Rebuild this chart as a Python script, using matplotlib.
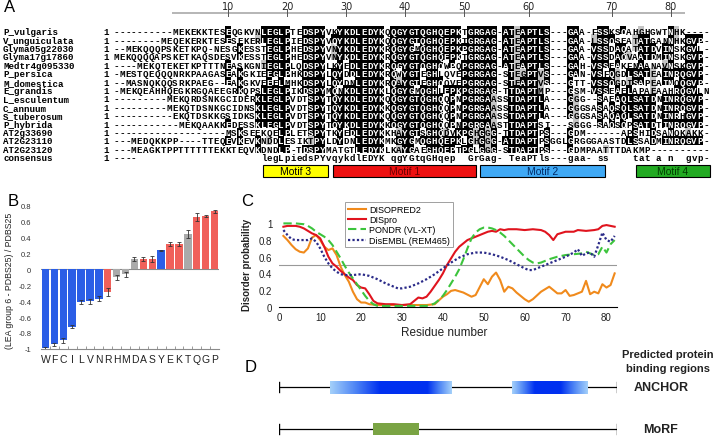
import numpy as np
import matplotlib.pyplot as plt
from matplotlib.colors import ListedColormap, LinearSegmentedColormap
from matplotlib.patches import Rectangle

W, H = 713, 439

# ---------------- panel A: alignment ----------------
names = ['P_vulgaris', 'V_unguiculata', 'Glyma05g22030', 'Glyma17g17860',
         'Medtr4g095330', 'P_persica', 'M_domestica', 'E_grandis',
         'L_esculentum', 'C_annuum', 'S_tuberosum', 'P_hybrida',
         'AT2g33690', 'AT2G23110', 'AT2G23120']
seqs = [
    '----------MEKEKKTESEQGKVN' 'LEGLPTEDSPYVKYKDLEDYKQQGYGT' 'QGHQEPKTGRGAG-ATEAPTLS' '---GAA-FSSKSQAHGHGWTNHK----',
    '--------MEQEKERKTESESEKER' 'LEGLPIEDSPYVQYKDLEDYKQQGYGT' 'QGHQEPKTGRGAG-ATEAPTLS' '---GAA-LSSQSEATATGANNHKGVP-',
    '--MEKQQQPSKETKPQ-NESGKESS' 'TEGLPHEDSPYVNYKDLEDYKRQGYGM' 'QGHQEPKPGRGAG-ATEAPTLS' '---GAA-VSSDAQATATDVINSKGVL-',
    'MEKQQQQAPSKETKAQSDESVKESS' 'TEGLPHEDSPYVNYKDLEDYKRQGYGT' 'QGHQEPKTGRGAG-ATEAPTLS' '---GAA-VSSDAQVAATDMINSKGVP-',
    '----MEKQTEKETKPTTTNEASKGN' 'IEGLPLQDSPYLKYEDLEDYKRQGYGT' 'QGHQWPQPGRGAG-ATEAPTLS' '---GAH-VSSEAKFNAANAVNSKGVP-',
    '-MESTQEQQQNRKPAAGASEAKGKI' 'EEGLPHKDSPYLQYDDLEDYKRQWYGT' 'EGHLQVEPGRGAG-STEGPTVS' '---GAN-VSFQGDLSATEAINRQGVP-',
    '--MASNQKQQSRKPAEG--EAKGKV' 'EEELMHKDSPYLQYDNLEDYKRQAYGT' 'EGHQQVEPGRGAG-STEAPTVS' '---GTT-VSSQGDISAPEAINQQGVP-',
    '-MEKQEAHHQEGKRGQAEEGRKQPS' 'LEGLPIKDSPYMQNKDLEDYKLQGYGM' 'QGHLEPKPGRGAG-TTDAPTMP' '---GSM-VSSEAELAPAEAAHRQGVLN',
    '---------MEKQRDSNKGCIDERK' 'LEGLPVDTSPYTQYKDLEDYKQQGYGT' 'QGHQQPNPGRGAASSTDAPTLA' '---GGG--SAEAQLSATDNINRQGVP-',
    '---------MEKQTDSNKGCIDNSK' 'LEGLPVDTSPYTQYKDLEDYKKQGYGT' 'QGHQQPNPGRGAASSTDAPTLA' '---GGGSASAQSQLSATDNINRQGVP-',
    '----------EKQTDSKKGSIDKSK' 'LEGLPVDTSPYTQYKDLEDYKQQGYGT' 'QGHQQPNPGRGAASSTDAPTLA' '---GGGSASAQAQLSATDNINRHGVP-',
    '-----------MEKQAAKKEDESSK' 'LEGLPVDTSPYTQYKDLEDYKKQGYGT' 'QGHQQPNPGRGAASTTDAPTSI' '---SGGG-SAQSQPSATDTINRQGVP-',
    '-------------------MSKSEE' 'KQELPLETSPYTKYEDLEDYKKHAYGT' 'SGHQDVKPGHGGG-TTDAPTPS' '---GDM------APSHIDSANQKAKK-',
    '---MEDQKKPP----TTEQEVKEVK' 'NDDLESIKTPYLDYDNLEDYKMKGYGM' 'QGHQEPKLGHGGG-ATDAPTPS' 'GGLGRGGGAASTDLSSADMINRQGVP-',
    '---MEAGKTPPTTTTTTEKKTEQVK' 'DNDLP-TDSPYMATGTLEDYKLKAYGA' 'EGHQEPTPGLGGG-STDAPTPS' '---GDMPAATTTDAKMP----------',
]
consensus = ('----                     ' 'legLpiedsPYvqykdlEDYK qgYGt'
             'qGHqep  GrGag- TeaPTls' '---gaa- ss    tat a n  gvp-')
ruler_ticks = [10, 20, 30, 40, 50, 60, 70, 80]
motif_names = ['Motif 3', 'Motif 1', 'Motif 2', 'Motif 4']
motif_start = [25.4, 37.3, 62.2, 88.6]
motif_end = [36.4, 61.5, 83.4, 101.2]
motif_fill = ['#ffff00', '#ee1111', '#3fa9f5', '#22aa22']
motif_text = ['black', '#6a0000', '#002a66', '#003d00']

# ---------------- panel B ----------------
aa = list('WFCILVNRHMDASYEKTQGP')
b_vals = [-0.99, -0.94, -0.89, -0.72, -0.41, -0.40, -0.37, -0.28, -0.10, -0.06,
          0.13, 0.13, 0.13, 0.24, 0.32, 0.32, 0.44, 0.66, 0.67, 0.73]
b_err = [0.02, 0.02, 0.03, 0.02, 0.02, 0.03, 0.03, 0.05, 0.03, 0.03,
         0.03, 0.02, 0.04, 0.01, 0.03, 0.03, 0.05, 0.05, 0.01, 0.02]
b_group = ['b', 'b', 'b', 'b', 'b', 'b', 'b', 'r', 'g', 'g',
           'g', 'r', 'r', 'b', 'r', 'r', 'g', 'r', 'r', 'r']
b_colors = {'b': '#2b5ee6', 'r': '#f0605a', 'g': '#aaaaaa'}

# ---------------- panel C ----------------
diso_x = [1, 2, 3, 4, 5, 6, 7, 8, 9, 10, 11, 12, 13, 14, 15, 16, 17, 18, 19, 20, 21, 22, 24, 28, 32, 36, 38, 40,
          41, 42, 43, 45, 47, 48, 50, 51, 52, 53, 54, 55, 56, 57, 58, 60, 61, 62, 64, 65, 66, 67, 68, 69, 70,
          71, 72, 73, 74, 75, 76, 77, 78, 79, 80, 81, 82]
diso_y = [0.85, 0.80, 0.74, 0.69, 0.66, 0.65, 0.70, 0.83, 0.86, 0.80, 0.72, 0.68, 0.70, 0.62, 0.48, 0.38, 0.30,
          0.18, 0.09, 0.05, 0.05, 0.03, 0.02, 0.02, 0.02, 0.02, 0.03, 0.12, 0.15, 0.19, 0.20, 0.17, 0.12, 0.14,
          0.33, 0.27, 0.36, 0.41, 0.32, 0.18, 0.24, 0.22, 0.17, 0.09, 0.06, 0.09, 0.18, 0.21, 0.24, 0.20, 0.16,
          0.16, 0.20, 0.13, 0.14, 0.16, 0.18, 0.31, 0.15, 0.18, 0.16, 0.27, 0.23, 0.26, 0.40]
dispro_x = [1, 2, 4, 5, 6, 7, 8, 9, 10, 11, 12, 13, 14, 15, 16, 17, 18, 19, 20, 21, 22, 23, 24, 26, 28, 30, 32,
            33, 34, 35, 36, 37, 38, 39, 40, 41, 42, 43, 44, 45, 46, 47, 48, 49, 50, 51, 52, 53, 54, 55, 56, 58,
            60, 62, 64, 65, 66, 67, 68, 70, 72, 73, 75, 77, 78, 79, 80, 81, 82]
dispro_y = [0.96, 0.97, 0.97, 0.96, 0.94, 0.91, 0.88, 0.86, 0.82, 0.72, 0.60, 0.52, 0.48, 0.43, 0.39, 0.35,
            0.32, 0.26, 0.23, 0.22, 0.15, 0.07, 0.04, 0.03, 0.03, 0.02, 0.03, 0.07, 0.11, 0.10, 0.12, 0.18,
            0.25, 0.32, 0.40, 0.50, 0.58, 0.66, 0.72, 0.76, 0.80, 0.82, 0.84, 0.86, 0.88, 0.90, 0.91, 0.90,
            0.93, 0.92, 0.93, 0.93, 0.92, 0.93, 0.92, 0.90, 0.86, 0.80, 0.87, 0.90, 0.90, 0.92, 0.91, 0.92,
            0.93, 0.97, 0.98, 0.97, 0.96]
pondr_x = [1, 4, 6, 7, 8, 9, 10, 11, 12, 13, 14, 15, 16, 17, 18, 19, 20, 21, 22, 23, 24, 30, 36, 37, 38, 39, 40,
           41, 42, 43, 44, 45, 46, 47, 48, 49, 50, 51, 52, 53, 54, 55, 56, 57, 58, 59, 60, 61, 62, 63, 64, 65,
           66, 68, 70, 72, 74, 75, 76, 77, 78, 79, 80, 81, 82]
pondr_y = [1.0, 1.0, 0.99, 0.97, 0.94, 0.90, 0.87, 0.84, 0.80, 0.74, 0.66, 0.58, 0.49, 0.41, 0.34, 0.27, 0.20,
           0.13, 0.07, 0.03, 0.01, 0.01, 0.01, 0.02, 0.04, 0.08, 0.13, 0.20, 0.28, 0.36, 0.45, 0.57, 0.70,
           0.82, 0.89, 0.93, 0.95, 0.95, 0.94, 0.92, 0.89, 0.85, 0.80, 0.75, 0.70, 0.65, 0.60, 0.56, 0.53,
           0.52, 0.53, 0.55, 0.57, 0.60, 0.62, 0.63, 0.64, 0.66, 0.64, 0.62, 0.63, 0.72, 0.65, 0.75, 0.80]
embl_x = [1, 2, 3, 4, 5, 6, 7, 8, 9, 10, 11, 12, 13, 14, 15, 16, 18, 20, 22, 24, 26, 28, 29, 30, 32, 34, 36, 38,
          40, 42, 44, 46, 48, 50, 52, 54, 56, 58, 60, 61, 62, 64, 66, 68, 70, 72, 73, 74, 75, 76, 77, 78, 79,
          80, 81, 82]
embl_y = [0.92, 0.86, 0.81, 0.80, 0.80, 0.80, 0.80, 0.82, 0.78, 0.70, 0.60, 0.52, 0.46, 0.42, 0.39, 0.38, 0.38,
          0.39, 0.37, 0.33, 0.28, 0.24, 0.22, 0.22, 0.24, 0.28, 0.33, 0.39, 0.46, 0.53, 0.59, 0.63, 0.65,
          0.65, 0.63, 0.60, 0.56, 0.51, 0.46, 0.44, 0.44, 0.48, 0.52, 0.56, 0.60, 0.65, 0.69, 0.61, 0.64,
          0.65, 0.60, 0.74, 0.89, 0.80, 0.78, 0.85]

# ---------------- panel D ----------------
seq_len = 82.5
anchor_regions = [(12.4, 42.0), (56.8, 75.2)]
anchor_ramp = [(0.41, 0.20), (0.30, 0.36)]
morf_regions = [(22.8, 34.2)]


def rect(x0, y0, x1, y1):
    return [x0 / W, 1 - y1 / H, (x1 - x0) / W, (y1 - y0) / H]


def ftext(x, y, s, **kw):
    fig.text(x / W, 1 - y / H, s, **kw)


plt.rcParams['font.family'] = ['Liberation Sans', 'DejaVu Sans']
fig = plt.figure(figsize=(W / 100, H / 100), dpi=100)

# ---- A ----
ncol = len(seqs[0])
for s in seqs:
    assert len(s) == ncol, s
assert len(consensus) == ncol

groups = ['ILMV', 'FWY', 'KRH', 'DE', 'ST', 'NQ', 'AG']


def grp(a):
    for g in groups:
        if a in g:
            return g
    return a


nseq = len(seqs)
shade = np.zeros((nseq, ncol))
for c in range(ncol):
    col = [s[c] for s in seqs]
    res = [a for a in col if a != '-']
    if not res:
        continue
    vals, counts = np.unique(res, return_counts=True)
    top = vals[counts.argmax()]
    if counts.max() / nseq < 0.4:
        continue
    for r, a in enumerate(col):
        if a == top:
            shade[r, c] = 2
        elif a != '-' and grp(a) == grp(top):
            shade[r, c] = 1

axA = fig.add_axes(rect(0, 0, W, 182))
axA.imshow(shade, cmap=ListedColormap(['white', '#c4c4c4', 'black']), vmin=0, vmax=2,
           extent=(0, ncol, nseq - 0.5, -0.5), aspect='auto', interpolation='nearest')
axA.set_xlim(-113 / 5.9, 600 / 5.9)
axA.set_ylim(17.89, -3.774)
axA.axis('off')

mono = dict(family='Liberation Mono', weight='bold', fontsize=6.6)
rows = seqs + [consensus]
row_names = names + ['consensus']
for r, s in enumerate(rows):
    axA.text(-18.64, r, row_names[r], ha='left', va='center_baseline', **mono)
    axA.text(-1.2, r, '1', ha='center', va='center_baseline', **mono)
    for c, ch in enumerate(s):
        if ch == ' ':
            continue
        white = r < nseq and shade[r, c] == 2
        axA.text(c + 0.5, r, ch, ha='center', va='center_baseline',
                 color='white' if white else 'black', **mono)

pv = seqs[0]
res_cols = [i for i, a in enumerate(pv) if a != '-']
axA.plot([res_cols[0], res_cols[-1] + 1], [-2.07, -2.07], color='#b0b0b0', lw=1.3,
         solid_capstyle='butt')
for t in ruler_ticks:
    xc = res_cols[t - 1] + 0.5
    axA.plot([xc, xc], [-2.6, -1.75], color='#555555', lw=0.7)
    axA.text(xc, -2.95, str(t), ha='center', va='center', fontsize=7,
             family='Liberation Sans Narrow', color='#222222')

for name, s0, s1, fc, tc in zip(motif_names, motif_start, motif_end, motif_fill, motif_text):
    axA.add_patch(Rectangle((s0, 15.99), s1 - s0, 1.43, facecolor=fc, edgecolor='black', lw=0.8,
                            clip_on=False))
    axA.text((s0 + s1) / 2, 16.72, name, ha='center', va='center', fontsize=7.5, color=tc)

# ---- B ----
axB = fig.add_axes(rect(41, 206.8, 219, 349.9))
xb = np.arange(len(aa))
axB.bar(xb, b_vals, width=0.84, color=[b_colors[g] for g in b_group], yerr=b_err,
        error_kw=dict(ecolor='#333333', elinewidth=0.6, capsize=1.3, capthick=0.6))
axB.axhline(0, color='#8a8a8a', lw=0.8, zorder=0)
axB.set_xlim(-0.5, len(aa) - 0.5)
axB.set_ylim(-1, 0.8)
for sp in ['top', 'right', 'left']:
    axB.spines[sp].set_visible(False)
axB.spines['bottom'].set_color('#8a8a8a')
axB.spines['bottom'].set_linewidth(0.8)
axB.set_xticks(xb)
axB.set_xticklabels(aa, fontsize=7.5, color='#222222')
axB.set_xticks(xb[:-1] + 0.5, minor=True)
axB.tick_params(axis='x', which='major', length=0, pad=4)
axB.tick_params(axis='x', which='minor', length=2.5, direction='in', color='#8a8a8a')
yt = [-1, -0.8, -0.6, -0.4, -0.2, 0, 0.2, 0.4, 0.6, 0.8]
axB.set_yticks(yt)
axB.set_yticklabels(['%g' % v for v in yt], fontsize=5.5, color='#333333')
axB.tick_params(axis='y', length=0, pad=7)
ftext(10, 281, '(LEA group 6 - PDBS25) / PDBS25', rotation=90, ha='center', va='center',
      fontsize=6.3, color='#222222')

# ---- C ----
axC = fig.add_axes(rect(279.3, 224.4, 616.7, 307.7))
axC.axhline(0.5, color='#999999', lw=0.8, zorder=0)
axC.plot(diso_x, diso_y, color='#f08a1c', lw=1.5, label='DISOPRED2', clip_on=False)
axC.plot(dispro_x, dispro_y, color='#e0141e', lw=1.5, label='DISpro', clip_on=False)
axC.plot(pondr_x, pondr_y, color='#3cc43c', lw=1.5, ls=(0, (4, 2)), label='PONDR (VL-XT)',
         clip_on=False)
axC.plot(embl_x, embl_y, color='#2a2a88', lw=1.6, ls=(0, (1, 1)), label='DisEMBL (REM465)',
         clip_on=False)
axC.set_xlim(0, seq_len)
axC.set_ylim(0, 1)
for sp in ['top', 'right', 'left']:
    axC.spines[sp].set_visible(False)
axC.spines['bottom'].set_linewidth(0.8)
axC.set_xticks(range(0, 81, 10))
axC.set_yticks([0, 0.2, 0.4, 0.6, 0.8, 1])
axC.set_yticklabels(['0', '0.2', '0.4', '0.6', '0.8', '1'])
axC.tick_params(length=0, labelsize=7, colors='#222222')
axC.tick_params(axis='x', pad=4)
axC.tick_params(axis='y', pad=5)
leg = axC.legend(loc='upper left', bbox_to_anchor=(345 / W, 1 - 203 / H), bbox_transform=fig.transFigure,
                 borderaxespad=0, fontsize=6.5, frameon=True, fancybox=False, edgecolor='#888888',
                 handlelength=2.0, handletextpad=0.4, labelspacing=0.15, borderpad=0.3)
leg.get_frame().set_linewidth(0.7)
ftext(444, 333, 'Residue number', ha='center', va='center', fontsize=8.5, color='#222222')
ftext(247, 265, 'Disorder probability', rotation=90, ha='center', va='center', fontsize=7,
      weight='bold', color='#222222')

# ---- D ----
axD = fig.add_axes(rect(279.3, 370, 616.7, 440))
axD.set_xlim(0, seq_len)
axD.set_ylim(-0.24, 1.44)
axD.axis('off')
for yv in [1, 0]:
    axD.plot([0, seq_len], [yv, yv], color='black', lw=0.9)
    axD.plot([0, 0], [yv - 0.12, yv + 0.12], color='black', lw=1.0)
    axD.plot([seq_len, seq_len], [yv - 0.12, yv + 0.12], color='black', lw=1.0)
blue_cm = LinearSegmentedColormap.from_list('anc', ['#a4d0fa', '#4f86f5', '#0030f0'])
t = np.linspace(0, 1, 300)
for (s0, s1), (a, b) in zip(anchor_regions, anchor_ramp):
    prof = np.minimum(1, np.minimum(t / a, (1 - t) / b))
    axD.imshow(prof[None, :], cmap=blue_cm, vmin=0, vmax=1, aspect='auto',
               extent=(s0, s1, 1 - 0.156, 1 + 0.156), zorder=3)
for s0, s1 in morf_regions:
    axD.add_patch(Rectangle((s0, -0.15), s1 - s0, 0.30, facecolor='#7aa444', edgecolor='none', zorder=3))
axD.set_xlim(0, seq_len)
axD.set_ylim(-0.24, 1.44)

ftext(668, 355, 'Predicted protein', ha='center', va='center', fontsize=8, weight='bold', color='#222222')
ftext(668, 369, 'binding regions', ha='center', va='center', fontsize=8, weight='bold', color='#222222')
ftext(661, 388, 'ANCHOR', ha='center', va='center', fontsize=9, weight='bold', color='#222222')
ftext(660, 430, 'MoRF', ha='center', va='center', fontsize=9, weight='bold', color='#222222')

# panel letters
ftext(10, 7, 'A', ha='center', va='center', fontsize=12)
ftext(13, 202, 'B', ha='center', va='center', fontsize=12)
ftext(246.7, 201.5, 'C', ha='center', va='center', fontsize=12)
ftext(250.5, 367, 'D', ha='center', va='center', fontsize=12)

fig.savefig('out.png', dpi=100)
